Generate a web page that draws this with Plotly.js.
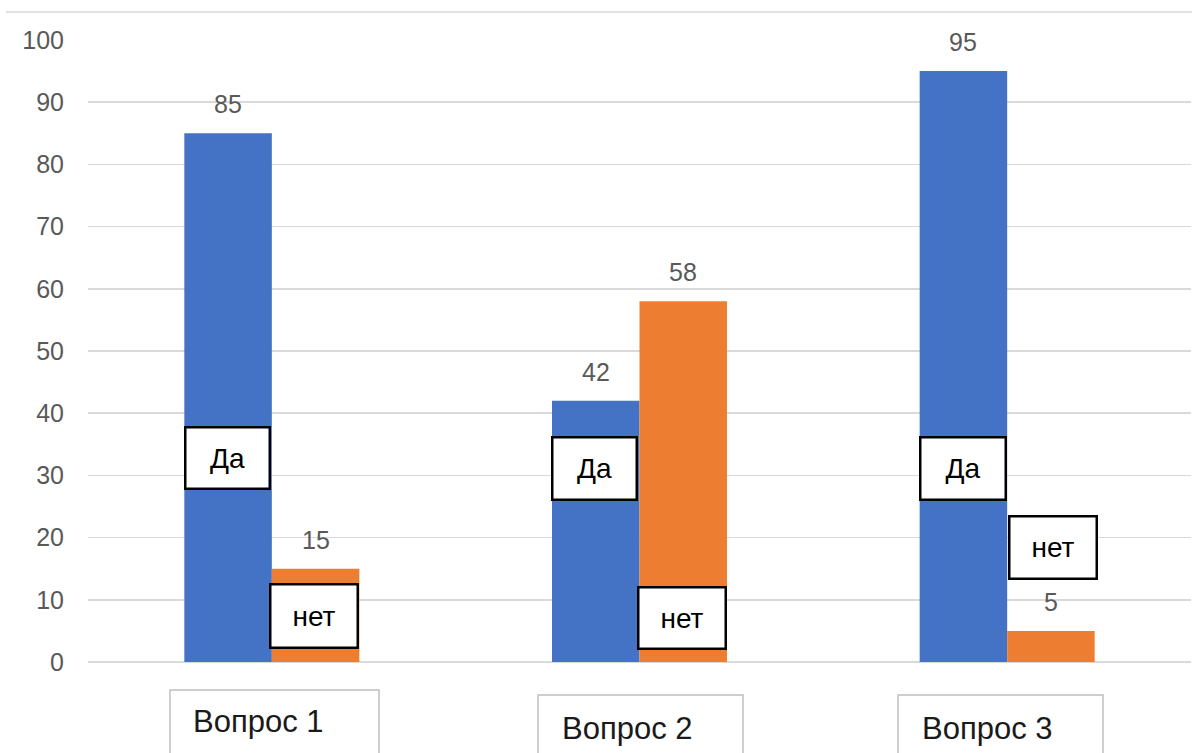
<!DOCTYPE html>
<html>
<head>
<meta charset="utf-8">
<script src="https://cdn.plot.ly/plotly-3.0.1.min.js"></script>
<style>html,body{margin:0;padding:0;background:#fff;}#chart{width:1192px;height:753px;}</style>
</head>
<body>
<div id="chart"></div>
<script>
// ---- data ----
const categories = ['Вопрос 1', 'Вопрос 2', 'Вопрос 3'];
const seriesNames = ['Да', 'нет'];
const yesValues = [85, 42, 95];
const noValues = [15, 58, 5];
const yTickValues = [0, 10, 20, 30, 40, 50, 60, 70, 80, 90, 100];

// ---- layout helpers (pixel -> paper) ----
const W = 1192, H = 753;
const M = {l: 88, r: 1, t: 40, b: 91};
const plotL = M.l, plotR = W - M.r, plotT = M.t, plotB = H - M.b;
const fx = px => (px - plotL) / (plotR - plotL);
const fy = py => (plotB - py) / (plotB - plotT);

const BLUE = '#4472C4', ORANGE = '#ED7D31', GRID = '#d9d9d9', GRAY = '#595959';
const FONT = 'Liberation Sans, Arial, sans-serif';

const traces = [
  {type: 'bar', name: seriesNames[0], x: categories, y: yesValues,
   marker: {color: BLUE}, hoverinfo: 'none'},
  {type: 'bar', name: seriesNames[1], x: categories, y: noValues,
   marker: {color: ORANGE}, hoverinfo: 'none'}
];

const annotations = [];
// value labels above bars
const groupShift = 43.75;
[yesValues, noValues].forEach((vals, s) => {
  vals.forEach((v, i) => {
    annotations.push({
      xref: 'x', yref: 'y', x: i, y: v, xshift: s === 0 ? -groupShift : groupShift,
      yshift: 29, yanchor: 'middle', xanchor: 'center', showarrow: false,
      text: String(v), font: {family: FONT, size: 25, color: GRAY}
    });
  });
});

// boxed series labels (Да / нет)
const BW = 2.5;
const seriesBoxes = [
  {t: 0, cx: 227.5, cy: 458, w: 87, h: 64},
  {t: 1, cx: 314, cy: 616, w: 90, h: 66},
  {t: 0, cx: 594.5, cy: 468.5, w: 87, h: 65},
  {t: 1, cx: 682, cy: 618, w: 90, h: 64},
  {t: 0, cx: 963, cy: 468.5, w: 88, h: 65},
  {t: 1, cx: 1053, cy: 547.5, w: 90, h: 65}
];
seriesBoxes.forEach(b => {
  annotations.push({
    xref: 'paper', yref: 'paper', x: fx(b.cx), y: fy(b.cy),
    xanchor: 'center', yanchor: 'middle', showarrow: false,
    text: seriesNames[b.t], width: b.w - 2 * BW, height: b.h - 2 * BW,
    bgcolor: '#ffffff', bordercolor: '#000000', borderwidth: BW, borderpad: 0,
    font: {family: FONT, size: 28, color: '#000000'}
  });
});

// category label boxes
const catBoxes = [
  {x0: 170, x1: 379, top: 690, tx: 191, ty: 721},
  {x0: 538, x1: 743, top: 695, tx: 560, ty: 728},
  {x0: 898, x1: 1103, top: 695, tx: 920, ty: 728}
];
const shapes = [
  {type: 'line', xref: 'paper', yref: 'paper', x0: fx(6), x1: fx(1192), y0: fy(12), y1: fy(12),
   line: {color: GRID, width: 1.5}}
];
catBoxes.forEach((b, i) => {
  shapes.push({type: 'rect', xref: 'paper', yref: 'paper',
    x0: fx(b.x0), x1: fx(b.x1), y0: fy(b.top), y1: fy(b.top + 70),
    line: {color: '#bfbfbf', width: 1.5}, fillcolor: '#ffffff'});
  annotations.push({
    xref: 'paper', yref: 'paper', x: fx(b.tx), y: fy(b.ty),
    xanchor: 'left', yanchor: 'middle', showarrow: false,
    text: categories[i], font: {family: FONT, size: 31, color: '#1a1a1a'}
  });
});

const layout = {
  width: W, height: H,
  margin: M,
  paper_bgcolor: '#ffffff', plot_bgcolor: '#ffffff',
  showlegend: false,
  barmode: 'group', bargap: 0.524, bargroupgap: 0,
  xaxis: {type: 'category', range: [-0.5, 2.5], showticklabels: false,
          showgrid: false, zeroline: false, showline: false, ticks: '', fixedrange: true},
  yaxis: {range: [0, 100], tickvals: yTickValues, ticktext: yTickValues.map(String),
          showgrid: true, gridcolor: GRID, gridwidth: 1.5,
          zeroline: true, zerolinecolor: GRID, zerolinewidth: 1.5,
          showline: false, ticks: '', ticklabelstandoff: 23,
          tickfont: {family: FONT, size: 25, color: GRAY}, fixedrange: true},
  annotations: annotations,
  shapes: shapes
};

Plotly.newPlot('chart', traces, layout, {displayModeBar: false, staticPlot: true});
</script>
</body>
</html>
